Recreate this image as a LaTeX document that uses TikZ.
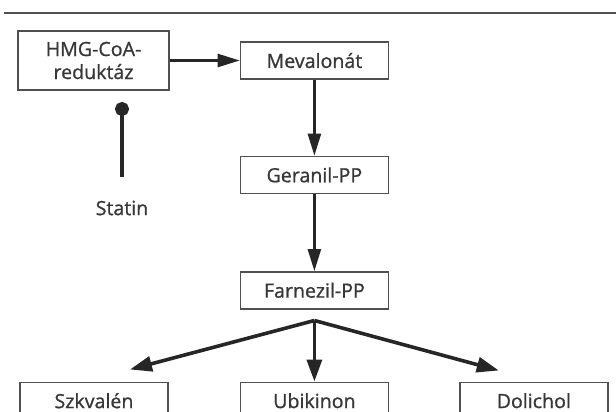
\documentclass[tikz,border=0pt]{standalone}
\usepackage{fontspec}
\setmainfont{Open Sans}[FakeBold=0.9, AutoFakeBold=0.9]
\usetikzlibrary{positioning, arrows.meta}
\definecolor{inkGray}{RGB}{55,55,55}
\definecolor{frameGray}{RGB}{80,80,80}
\tikzset{
	pathbox/.style={rectangle, draw=frameGray, line width=0.7pt,
		minimum height=18.5pt, minimum width=74pt,
		align=center, font=\fontsize{9.8}{11.5}\selectfont\bfseries, text=inkGray, inner sep=2pt},
	patharr/.style={-{Triangle[length=11pt, width=6.5pt]}, line width=1.2pt, draw=black!85},
	brancharr/.style={-{Triangle[length=11pt, width=7.5pt]}, line width=1.8pt, draw=black!85},
	inhib/.style={-{Circle[length=7pt]}, line width=2pt, draw=black!85}
}

\begin{document}
\begin{tikzpicture}[x=0.5pt, y=-0.5pt]
	\useasboundingbox (0,0) rectangle (616,412);
	\draw[frameGray, line width=0.8pt] (4,13) -- (616,13);
	% main chain
	\node[pathbox, minimum width=75.5pt, minimum height=29.5pt] (hmg) at (93.5,60.5) {HMG-CoA-\\reduktáz};
	\node[pathbox, right=35pt of hmg] (mev) {Mevalonát};
	\node[pathbox, below=38pt of mev] (ger) {Geranil-PP};
	\node[pathbox, below=38.5pt of ger] (far) {Farnezil-PP};
	% end products
	\node[pathbox, below=36pt of far] (ubi) {Ubikinon};
	\node[pathbox, left=35.5pt of ubi] (szk) {Szkvalén};
	\node[pathbox, right=35pt of ubi] (dol) {Dolichol};
	% inhibitor
	\node[font=\fontsize{9.8}{11.5}\selectfont\bfseries, text=inkGray] (statin) at (122,208) {Statin};
	\coordinate (blk) at (122,102);
	\coordinate (stem) at (122,177);
	\draw[inhib] (stem) -- (blk);
	\draw[patharr] (hmg) -- (mev);
	\draw[patharr] (mev) -- (ger);
	\draw[patharr] (ger) -- (far);
	% branching
	\coordinate (fork) at ([yshift=-5.5pt]far.south);
	\coordinate (szkIn) at ([xshift=18pt, yshift=6pt]szk.north);
	\coordinate (dolIn) at ([xshift=-17.5pt, yshift=5.5pt]dol.north);
	\draw[brancharr] (fork) -- (szkIn);
	\draw[brancharr] (fork) -- (ubi);
	\draw[brancharr] (fork) -- (dolIn);
\end{tikzpicture}
\end{document}
